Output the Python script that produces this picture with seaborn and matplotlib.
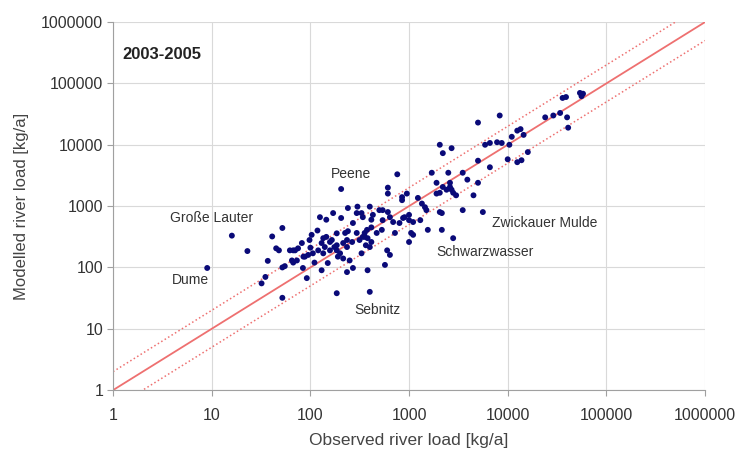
import numpy as np
import pandas as pd
import matplotlib
matplotlib.use("Agg")
import matplotlib.pyplot as plt
import seaborn as sns

# observed vs modelled river loads [kg/a]
observed = [
    9, 16, 23, 32, 35, 37, 41, 45, 48, 52, 52, 52, 55, 62, 65, 67, 67, 73, 75, 82,
    84, 88, 92, 98, 103, 106, 110, 118, 125, 130, 130, 135, 140, 145, 150, 158, 158, 165, 170, 175,
    185, 185, 185, 190, 205, 205, 215, 225, 235, 235, 235, 240, 250, 265, 270, 270, 295, 295, 300, 315,
    330, 340, 340, 355, 375, 380, 380, 400, 400, 400, 415, 415, 415, 470, 500, 540, 570, 600, 610, 610,
    640, 720, 760, 800, 850, 850, 950, 1000, 1000, 1000, 1050, 1100, 1230, 1300, 1350, 1450, 1500, 1550, 1700, 1900,
    1900, 2050, 2050, 2050, 2150, 2150, 2200, 2200, 2400, 2500, 2600, 2600, 2700, 2700, 2800, 2800, 3000, 3500, 3500, 3900,
    4500, 5000, 5000, 5000, 5600, 5900, 6600, 6600, 7800, 8300, 8700, 10000, 10400, 11000, 12500, 12500, 13500, 13800, 14500, 16000,
    24000, 29000, 34000, 40000, 41000, 36000, 39000, 54000, 58000, 56000,
    145, 330, 540, 610, 870, 1100, 135, 185, 240, 355, 365, 430, 530, 640, 200, 215, 120, 100, 95, 85,
    70, 900, 690,
]
modelled = [
    98, 330, 185, 55, 70, 128, 320, 205, 190, 440, 100, 32, 105, 190, 130, 120, 190, 130, 205, 250,
    98, 150, 67, 280, 340, 170, 120, 400, 660, 250, 90, 170, 215, 315, 118, 190, 260, 280, 770, 215,
    38, 360, 190, 150, 640, 1900, 250, 365, 84, 215, 280, 930, 130, 260, 530, 98, 365, 770, 980, 280,
    170, 315, 660, 365, 410, 90, 300, 40, 215, 980, 600, 450, 260, 365, 860, 590, 110, 190, 2000, 1600,
    660, 365, 3300, 530, 1250, 1400, 1600, 720, 590, 260, 365, 340, 1360, 590, 1100, 960, 860, 410, 3500, 2400,
    1600, 10000, 1650, 800, 410, 770, 7300, 2050, 1850, 3500, 2400, 2050, 8800, 1850, 300, 1650, 1500, 3500, 860, 2700,
    1500, 2400, 5500, 23000, 800, 10000, 10700, 4300, 11000, 30000, 10700, 5800, 10000, 13500, 17000, 5200, 18000, 5600, 14500, 7600,
    28000, 30000, 33000, 28000, 19000, 58000, 60000, 70000, 68000, 62000,
    600, 770, 860, 800, 640, 550, 300, 230, 390, 315, 230, 720, 410, 160, 170, 140, 190, 210, 160, 150,
    190, 660, 550,
]

ref_x = [1, 1000000]
ratio_factors = [1, 2, 0.5]

station_names = ["Peene", "Große Lauter", "Dume", "Sebnitz", "Schwarzwasser", "Zwickauer Mulde"]
station_x = [160, 3.8, 3.9, 280, 1900, 6900]
station_y = [3300, 650, 62, 20, 180, 540]

decades = [1, 10, 100, 1000, 10000, 100000, 1000000]

sns.set_style("whitegrid", {"grid.color": "#d9d9d9", "axes.edgecolor": "#a0a0a0"})
plt.rcParams["font.family"] = ["Liberation Sans", "DejaVu Sans"]

fig = plt.figure(figsize=(7.39, 4.51), dpi=100)
ax = fig.add_axes([0.153, 0.135, 0.801, 0.816])

# 1:1 line and factor-2 band
for f, ls, lw in zip(ratio_factors, ["-", ":", ":"], [1.3, 1.1, 1.1]):
    sns.lineplot(x=ref_x, y=[v * f for v in ref_x], ax=ax, color="#ee7070",
                 linestyle=ls, linewidth=lw, legend=False)

df = pd.DataFrame({"observed": observed, "modelled": modelled})
sns.scatterplot(data=df, x="observed", y="modelled", ax=ax, color="#0a0a78",
                s=18, edgecolor="none", zorder=3)

ax.set_xscale("log")
ax.set_yscale("log")
ax.set_xlim(1, 1000000)
ax.set_ylim(1, 1000000)
ax.set_xticks(decades)
ax.set_yticks(decades)
ax.set_xticklabels([str(d) for d in decades])
ax.set_yticklabels([str(d) for d in decades])
ax.minorticks_off()
ax.tick_params(axis="both", labelsize=11.5, colors="#333333", length=4, direction="out",
               color="#a0a0a0", left=True, bottom=True, pad=3)
ax.tick_params(axis="x", pad=9)

for side in ["top", "right"]:
    ax.spines[side].set_visible(False)

ax.set_xlabel("Observed river load [kg/a]", fontsize=12.5, color="#444444", labelpad=7)
ax.set_ylabel("Modelled river load [kg/a]", fontsize=12, color="#444444", labelpad=9)

ax.text(1.25, 300000, "2003-2005", fontsize=12, fontweight="bold", color="#222222", va="center")
for name, x, y in zip(station_names, station_x, station_y):
    ax.text(x, y, name, fontsize=10, color="#333333", va="center")

fig.savefig("out.png", dpi=100)
